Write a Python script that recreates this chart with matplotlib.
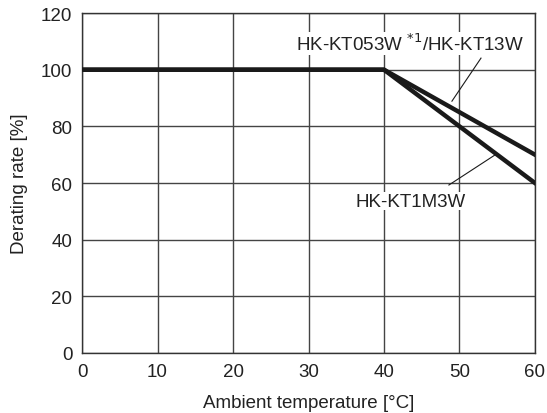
import matplotlib
matplotlib.use("Agg")
import matplotlib.pyplot as plt

plt.rcParams['font.family'] = ['Liberation Sans', 'DejaVu Sans']

temp = [0, 40, 60]
rate_kt13 = [100, 100, 70]
rate_kt1m3 = [100, 100, 60]
xticks = [0, 10, 20, 30, 40, 50, 60]
yticks = [0, 20, 40, 60, 80, 100, 120]

fig = plt.figure(figsize=(5.47, 4.14), dpi=100)
ax = fig.add_axes([0.150, 0.145, 0.828, 0.821])

ax.plot(temp, rate_kt13, color='#1a1a1a', lw=3.2, solid_joinstyle='miter', zorder=3)
ax.plot(temp, rate_kt1m3, color='#1a1a1a', lw=3.2, solid_joinstyle='miter', zorder=3)

ax.set_xlim(0, 60)
ax.set_ylim(0, 120)
ax.set_xticks(xticks)
ax.set_yticks(yticks)
ax.grid(True, color='#444444', lw=1.0)
ax.set_axisbelow(True)
for s in ax.spines.values():
    s.set_color('#333333')
    s.set_linewidth(1.0)
ax.tick_params(length=0, labelsize=13.5, colors='#222222')
ax.tick_params(axis='x', pad=7)
ax.tick_params(axis='y', pad=7)

ax.set_xlabel('Ambient temperature [°C]', fontsize=13.5, color='#222222', labelpad=10)
ax.set_ylabel('Derating rate [%]', fontsize=13.5, color='#222222', labelpad=9)

ax.text(43.4, 109.2, 'HK-KT053W $^{*1}$/HK-KT13W', fontsize=13.5, ha='center', va='center',
        color='#222222', zorder=5,
        bbox=dict(facecolor='white', edgecolor='none', pad=0.5))
ax.plot([52.85, 49.0], [104.1, 88.9], color='#1a1a1a', lw=0.8, zorder=4)

ax.text(43.5, 53.6, 'HK-KT1M3W', fontsize=13.5, ha='center', va='center',
        color='#222222', zorder=5,
        bbox=dict(facecolor='white', edgecolor='none', pad=0.5))
ax.plot([48.6, 54.7], [59.3, 69.9], color='#1a1a1a', lw=0.8, zorder=4)

fig.savefig('out.png', dpi=100)
